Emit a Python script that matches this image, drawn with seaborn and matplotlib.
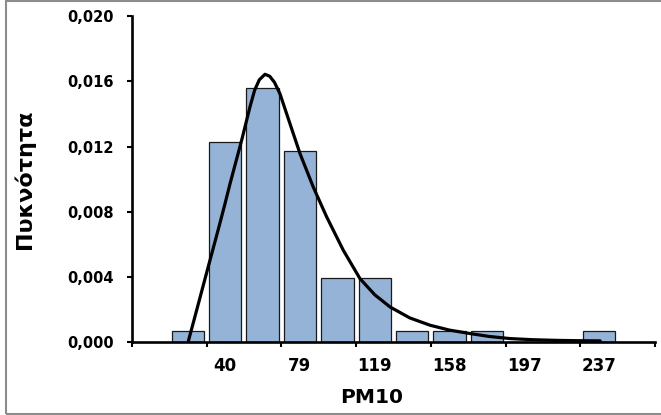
import numpy as np
import pandas as pd
import matplotlib
matplotlib.use('Agg')
import matplotlib.pyplot as plt
from matplotlib.patches import Rectangle
from matplotlib.ticker import FixedLocator, FuncFormatter
import seaborn as sns

# histogram bins (centres) and density of each bin
bin_centres = [19.8, 39.5, 59.3, 79.0, 98.8, 118.5, 138.3, 158.0, 177.8, 197.5, 217.3, 237.0]
density = [0.00065, 0.0123, 0.0156, 0.0117, 0.0039, 0.0039,
           0.00065, 0.00065, 0.00065, 0.0, 0.0, 0.00065]

# fitted density curve
curve_x = [19.9, 24.4, 30.5, 35.8, 39.4, 42.0, 48.2, 52.6, 55.0, 57.5, 60.5, 63.0,
           65.5, 68.4, 73.7, 79.0, 86.0, 93.1, 101.9, 110.7, 118.5, 126.6, 137.0,
           147.7, 158.0, 168.8, 179.0, 190.0, 202.0, 214.7, 226.0, 237.6]
curve_y = [0.0, 0.00195, 0.00461, 0.0069, 0.0085, 0.0097, 0.0124, 0.01445,
           0.01545, 0.0161, 0.01644, 0.01632, 0.01595, 0.01525, 0.01341, 0.01157,
           0.00952, 0.00768, 0.00563, 0.00389, 0.0029, 0.00215, 0.00148, 0.00103,
           0.00073, 0.00052, 0.00034, 0.00021, 0.00014, 0.0001, 0.00008, 0.00007]

tick_labels = ['40', '79', '119', '158', '197', '237']
y_ticks = [0.0, 0.004, 0.008, 0.012, 0.016, 0.020]

df = pd.DataFrame({'pm10': bin_centres, 'density': density})

sns.set_style('white')
plt.rcParams.update({'font.family': ['DejaVu Sans'],
                     'text.color': 'black',
                     'axes.labelcolor': 'black',
                     'xtick.color': 'black',
                     'ytick.color': 'black'})

fig = plt.figure(figsize=(6.61, 4.15), dpi=100)
ax = fig.add_axes([0.1997, 0.1759, 0.7912, 0.7848])

sns.barplot(df, x='pm10', y='density', native_scale=True, width=0.87,
            color='#95B3D7', saturation=1, edgecolor='#1a1a1a', linewidth=0.9,
            ax=ax, zorder=1)

sns.lineplot(x=curve_x, y=curve_y, color='black', linewidth=2.3, estimator=None,
             ax=ax, zorder=3)

step = bin_centres[1] - bin_centres[0]
x_lo = bin_centres[0] - 1.5 * step
x_hi = bin_centres[-1] + 1.5 * step
ax.set_xlim(x_lo, x_hi)
ax.set_ylim(0, 0.020)

# labels under every second bar, tick marks between bar pairs
ax.xaxis.set_major_locator(FixedLocator(bin_centres[1::2]))
ax.set_xticklabels(tick_labels)
ax.xaxis.set_minor_locator(FixedLocator(np.linspace(x_lo, x_hi, 8)))
ax.tick_params(axis='x', which='major', length=0, pad=10.5, labelsize=12,
               labelcolor='black')
ax.tick_params(axis='x', which='minor', length=3.6, width=1.5, direction='out',
               color='black', bottom=True)
for lab in ax.get_xticklabels():
    lab.set_fontweight('bold')

ax.set_yticks(y_ticks)
ax.yaxis.set_major_formatter(FuncFormatter(lambda v, p: f'{v:.3f}'.replace('.', ',')))
ax.tick_params(axis='y', length=3.6, width=1.5, direction='out', color='black',
               labelcolor='black', pad=9.5, labelsize=10.5, left=True)
for lab in ax.get_yticklabels():
    lab.set_fontweight('bold')

for side in ['top', 'right']:
    ax.spines[side].set_visible(False)
for side in ['left', 'bottom']:
    ax.spines[side].set_color('black')
    ax.spines[side].set_linewidth(1.9)
ax.grid(False)

ax.set_xlabel('PM10', fontsize=14.5, fontweight='bold', color='black')
ax.xaxis.set_label_coords(0.458, -0.141)
ax.set_ylabel('Πυκνότητα', fontsize=16, fontweight='bold', color='black')
ax.yaxis.set_label_coords(-0.1855, 0.5)

# grey frame round the chart area
fig.patches.append(Rectangle((6 / 661, 1.5 / 415), 0.999, 412 / 415,
                             transform=fig.transFigure, fill=False,
                             edgecolor='#8c8c8c', linewidth=1.5))

fig.savefig('out.png', dpi=100)
